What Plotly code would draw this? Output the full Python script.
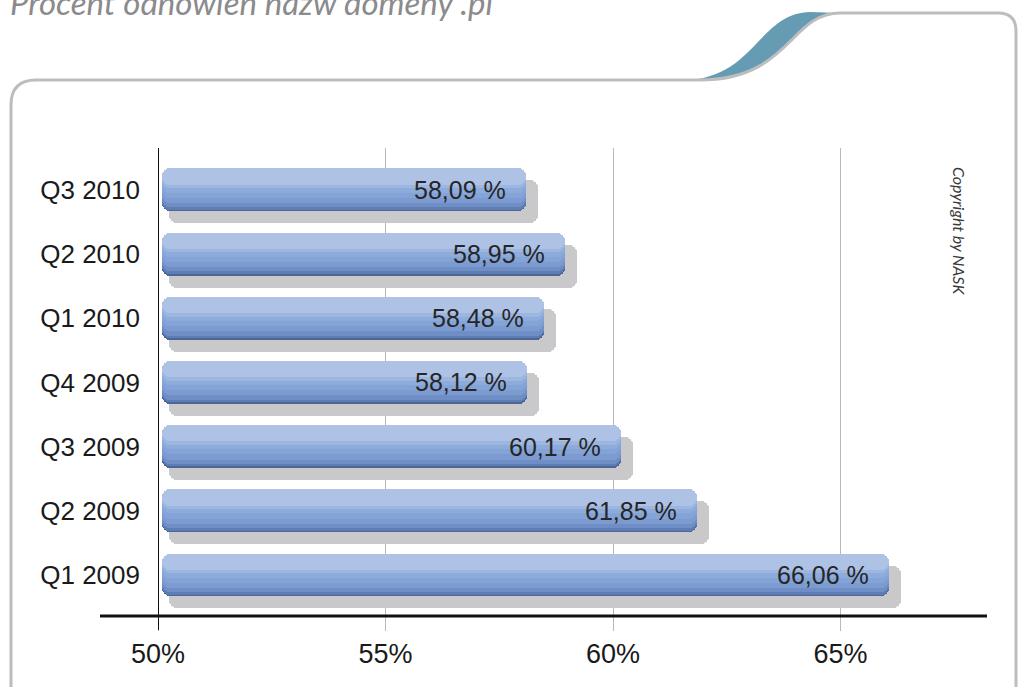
import plotly.graph_objects as go

# ---- data ----
quarters = ["Q1 2009", "Q2 2009", "Q3 2009", "Q4 2009", "Q1 2010", "Q2 2010", "Q3 2010"]
renewal_pct = [66.06, 61.85, 60.17, 58.12, 58.48, 58.95, 58.09]
x_ticks = [50, 55, 60, 65]
x_tick_labels = ["50%", "55%", "60%", "65%"]
title_text = "Procent odnowień nazw domeny .pl"
copyright_text = "Copyright by NASK"

# ---- layout geometry (style) ----
FIG_W, FIG_H = 1018, 687
L, R, T, B = 158, 31, 148, 71
PW = FIG_W - L - R
PH = FIG_H - T - B
X_MIN = 50.0
X_MAX = X_MIN + PW / 45.5
BAR_W = 0.67
BAR_BASE = 50.08
Y_RANGE = [-0.639, 6.654]
SH_START, SH_END, SH_DROP = 0.154, 0.264, 0.187


def px(x):
    return (x - L) / PW


def py(y):
    return (FIG_H - B - y) / PH


def path(cmds):
    out = []
    for c in cmds:
        if isinstance(c, str):
            out.append(c)
        else:
            out.append(f"{px(c[0]):.5f},{py(c[1]):.5f}")
    return " ".join(out)


fig = go.Figure()

SHADOW = "#c9c9cb"
layers = [
    (1.00, "#4d6698"),
    (0.96, "#5f7cb3"),
    (0.90, "#6f8ec6"),
    (0.80, "#7b9bd1"),
    (0.68, "#84a3d6"),
    (0.56, "#8eacdb"),
    (0.46, "#9db6e0"),
    (0.38, "#aec2e6"),
]
styles = [(-BAR_W / 2 - SH_DROP, BAR_W, SHADOW, SH_START, SH_END)] + \
         [(BAR_W / 2 - f * BAR_W, f * BAR_W, c, 0.0, 0.0) for f, c in layers]

for off, wid, col, ds, de in styles:
    fig.add_trace(go.Bar(
        y=quarters, x=[v + de - (BAR_BASE + ds) for v in renewal_pct],
        base=[BAR_BASE + ds] * len(renewal_pct), orientation="h",
        width=wid, offset=off,
        marker=dict(color=col, cornerradius=8, line=dict(width=0)),
        hoverinfo="skip", showlegend=False,
    ))

# value labels
for q, v in zip(quarters, renewal_pct):
    fig.add_annotation(
        x=v, y=q, xref="x", yref="y", xanchor="right", yanchor="middle",
        xshift=-18, showarrow=False,
        text=f"{v:.2f}".replace(".", ",") + " %",
        font=dict(family="Liberation Sans, Arial", size=25, color="#262626"),
    )

# title (clipped at top like reference)
fig.add_annotation(
    x=px(8), y=py(24), xref="paper", yref="paper", xanchor="left", yanchor="bottom",
    showarrow=False, text=f"<i>{title_text}</i>",
    font=dict(family="Lato", size=33, color="#8b8b8d"),
)

# copyright
fig.add_annotation(
    x=px(960), y=py(231), xref="paper", yref="paper", xanchor="center", yanchor="middle",
    showarrow=False, text=f"<i>{copyright_text}</i>", textangle=90,
    font=dict(family="Lato", size=16, color="#3a3a3a"),
)

shapes = []
# teal decoration
shapes.append(dict(
    type="path", xref="paper", yref="paper", layer="above",
    path=path(["M", (690, 80), "C", (755, 75), (760, 13), (810, 12), "L", (840, 13),
               "C", (790, 13), (790, 80), (700, 80), "Z"]),
    fillcolor="#659cb4", line=dict(width=0),
))
# frame
shapes.append(dict(
    type="path", xref="paper", yref="paper", layer="above",
    path=path(["M", (11, 720), "L", (11, 105), "Q", (11, 80), (36, 80), "L", (700, 80),
               "C", (790, 80), (790, 13), (840, 13), "L", (998, 13),
               "Q", (1016, 13), (1016, 31), "L", (1016, 720)]),
    line=dict(color="#bdbdc0", width=3),
))
# axis lines
shapes.append(dict(type="line", xref="paper", yref="paper",
                   x0=px(100), x1=px(987), y0=0, y1=0,
                   line=dict(color="#111111", width=3)))
shapes.append(dict(type="line", xref="x", yref="paper",
                   x0=X_MIN, x1=X_MIN, y0=py(630), y1=1,
                   line=dict(color="#111111", width=2)))

fig.update_layout(
    width=FIG_W, height=FIG_H,
    margin=dict(l=L, r=R, t=T, b=B, pad=0),
    paper_bgcolor="white", plot_bgcolor="white",
    barmode="overlay", bargap=0,
    shapes=shapes,
    xaxis=dict(
        range=[X_MIN, X_MAX], tickvals=x_ticks, ticktext=x_tick_labels,
        showgrid=True, gridcolor="#b8b8b8", gridwidth=1,
        ticks="outside", ticklen=14, tickcolor="#b8b8b8", tickwidth=1,
        zeroline=False, showline=False,
        tickfont=dict(family="Liberation Sans, Arial", size=27, color="#1a1a1a"),
    ),
    yaxis=dict(
        type="category", categoryorder="array", categoryarray=quarters,
        range=Y_RANGE, showgrid=False, zeroline=False, showline=False,
        ticks="", ticklabelstandoff=17,
        tickfont=dict(family="Liberation Sans, Arial", size=26, color="#1a1a1a"),
    ),
)

fig.write_html("out.html", config={"displayModeBar": False},
               post_script="document.body.style.margin='0px';")
